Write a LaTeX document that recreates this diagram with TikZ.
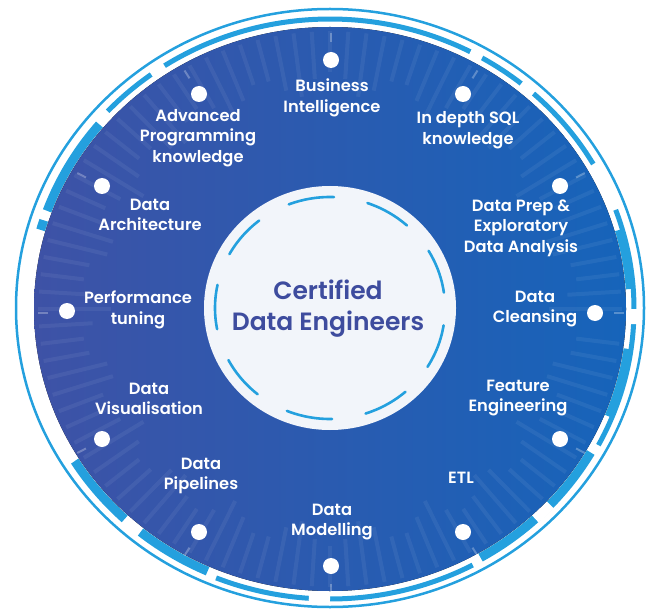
\documentclass[tikz,border=0pt]{standalone}
\usepackage{fontspec}
\setmainfont{Poppins}
\newfontfamily\labfont{Poppins SemiBold}
\definecolor{diskL}{RGB}{62,82,166}
\definecolor{diskR}{RGB}{22,100,186}
\definecolor{rimblue}{RGB}{36,160,222}
\definecolor{titlec}{RGB}{62,76,158}
\definecolor{innerw}{RGB}{242,245,250}
\newcommand\rimarc[5]{\draw[#5] plot[domain=#1:#2,samples=40,smooth] ({330+#3*cos(\x)},{309-#4*sin(\x)});}
\begin{document}
\begin{tikzpicture}[x=1pt,y=-1pt,
  dot/.style={circle,fill=white,draw=none,inner sep=0pt,minimum size=16pt},
  lab/.style={text=white,align=center,inner sep=0pt,font=\labfont\fontsize{16.3}{20.5}\selectfont},
  band/.style={rimblue,line width=5pt},
  thickband/.style={rimblue,line width=9pt},
  gapw/.style={white,line width=10pt},
  ray/.style={white,line width=4pt,opacity=0.06},
  dotray/.style={white,line width=2pt,opacity=0.28},
  innerdash/.style={rimblue,line width=2.6pt,line cap=round}]
\useasboundingbox (0,0) rectangle (650,612);
% outer rings
\draw[rimblue,line width=2.5pt] (330,308) ellipse [x radius=314pt,y radius=299pt];
\rimarc{30}{137}{304}{290}{band}
\rimarc{248}{298}{304}{290}{band}
\rimarc{-28}{20}{304}{290}{band}
\rimarc{140}{160}{301}{287}{thickband}
\rimarc{162}{164}{301}{287}{thickband}
\rimarc{212}{227}{301}{287}{thickband}
\rimarc{231}{246}{301}{287}{thickband}
\rimarc{300}{330}{301}{287}{thickband}
\rimarc{-22}{-8}{301}{287}{thickband}
\rimarc{4}{16}{301}{287}{thickband}
% white breaks
\rimarc{123}{126}{304}{290}{gapw}
\rimarc{60}{62.5}{304}{290}{gapw}
\rimarc{48}{51}{304}{290}{gapw}
\rimarc{-3}{0}{304}{290}{gapw}
\rimarc{313}{317}{301}{287}{gapw}
\rimarc{266}{270}{304}{290}{gapw}
% disk
\fill[left color=diskL,right color=diskR] (330,309) ellipse [x radius=296pt,y radius=282pt];
% radial stripes
\foreach \a in {0,3.6,...,356.4}{
  \pgfmathsetmacro\rin{0.74+0.1*abs(sin(\a*11))}
  \draw[ray] ({330+\rin*296*cos(\a)},{309-\rin*282*sin(\a)}) -- ({330+0.985*296*cos(\a)},{309-0.985*282*sin(\a)});
}
% inner white circle
\fill[innerw] (330,308) ellipse [x radius=126pt,y radius=122pt];
\foreach \s in {8,48,...,328}{
  \draw[innerdash] plot[domain=\s:\s+23,samples=20,smooth] ({330+115*cos(\x)},{308-111*sin(\x)});
}
% dots with rays
\foreach \i in {0,...,11}{
  \pgfmathsetmacro\ang{90-30*\i}
  \draw[dotray] ({331+283*cos(\ang)},{313-271*sin(\ang)}) -- ({331+293*cos(\ang)},{313-280*sin(\ang)});
}
\node[dot] (d1) at (331,60) {};
\node[dot] (d2) at (463,94) {};
\node[dot] (d3) at (560,186) {};
\node[dot] (d4) at (595,313) {};
\node[dot] (d5) at (560,439) {};
\node[dot] (d6) at (463,532) {};
\node[dot] (d7) at (331,566) {};
\node[dot] (d8) at (199,532) {};
\node[dot] (d9) at (102,439) {};
\node[dot] (d10) at (67,311) {};
\node[dot] (d11) at (102,186) {};
\node[dot] (d12) at (199,94) {};
% labels
\node[lab] (l1) at (332,98) {Business\\Intelligence};
\node[lab] (l2) at (468,130) {In depth SQL\\knowledge};
\node[lab] (l3) at (521,228) {Data Prep \&\\Exploratory\\Data Analysis};
\node[lab] (l4) at (535,309) {Data\\Cleansing};
\node[lab] (l5) at (518,398) {Feature\\Engineering};
\node[lab] (l6) at (461,478) {ETL};
\node[lab] (l7) at (332,522) {Data\\Modelling};
\node[lab] (l8) at (201,476) {Data\\Pipelines};
\node[lab] (l9) at (149,399) {Data\\Visualisation};
\node[lab] (l10) at (138,310) {Performance\\tuning};
\node[lab] (l11) at (150,215) {Data\\Architecture};
\node[lab] (l12) at (198,138) {Advanced\\Programming\\knowledge};
\node[text=titlec,align=center,inner sep=0pt,font=\labfont\fontsize{25}{31}\selectfont] (title) at (328,309) {Certified\\Data Engineers};
\end{tikzpicture}
\end{document}
